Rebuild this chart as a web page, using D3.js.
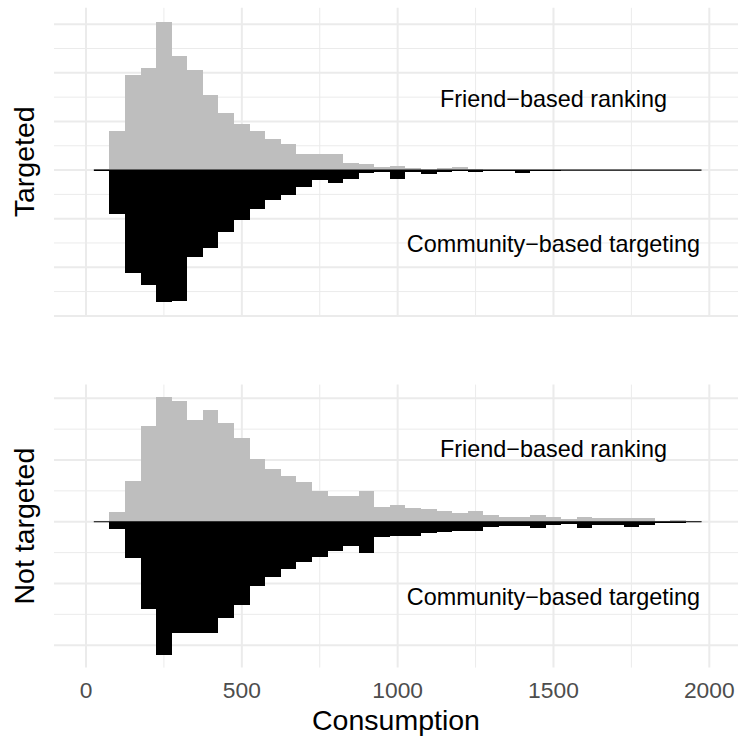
<!DOCTYPE html>
<html>
<head>
<meta charset="utf-8">
<script src="https://cdn.jsdelivr.net/npm/d3@7"></script>
<style>
  html, body { margin: 0; padding: 0; background: #fff; }
  svg { display: block; }
  text { font-family: "Liberation Sans", Arial, Helvetica, sans-serif; }
</style>
</head>
<body>
<svg id="chart" width="738" height="736"></svg>
<script>
// ---- data (density, in units of 0.001) ----
const binCenters = [50,100,150,200,250,300,350,400,450,500,550,600,650,700,750,800,850,900,950,1000,
  1050,1100,1150,1200,1250,1300,1350,1400,1450,1500,1550,1600,1650,1700,1750,1800,1850,1900,1950];
const binWidth = 50;

const friendTargeted = [0.03,0.80,1.955,2.10,3.05,2.35,2.06,1.54,1.17,0.95,0.80,0.64,0.535,0.33,0.33,0.33,0.144,0.123,0.055,0.082,
  0.034,0,0.041,0.062,0.02,0,0.007,0,0.007,0,0.01,0,0,0,0,0,0,0,0];
const communityTargeted = [0.01,0.90,2.11,2.37,2.71,2.69,1.79,1.60,1.27,1.03,0.81,0.62,0.51,0.34,0.21,0.26,0.185,0.07,0.034,0.18,
  0.034,0.082,0.034,0.02,0.048,0.027,0.02,0.055,0.02,0.027,0,0,0,0,0,0,0,0,0];
const friendNotTargeted = [0,0.162,0.666,1.558,2.013,1.948,1.656,1.818,1.607,1.364,1.023,0.860,0.747,0.649,0.503,0.422,0.422,0.503,0.2435,0.276,
  0.222,0.206,0.168,0.141,0.179,0.108,0.076,0.076,0.108,0.07,0.049,0.081,0.065,0.065,0.065,0.065,0.016,0.032,0.005];
const communityNotTargeted = [0,0.124,0.595,1.418,2.154,1.797,1.797,1.797,1.553,1.342,1.034,0.887,0.758,0.660,0.563,0.466,0.400,0.514,0.254,0.238,
  0.238,0.184,0.173,0.157,0.146,0.092,0.065,0.065,0.108,0.06,0.038,0.097,0.06,0.06,0.081,0.06,0.016,0.016,0.005];

const xTickValues = [0, 500, 1000, 1500, 2000];
const xTickLabels = ["0", "500", "1000", "1500", "2000"];
const panelLabels = ["Targeted", "Not targeted"];
const seriesLabels = ["Friend\u2212based ranking", "Community\u2212based targeting"];
const labelX = 1500;
const labelYTargeted = [1.46, -1.52];
const labelYNotTargeted = [1.19, -1.22];
const xTitle = "Consumption";

// ---- layout ----
const svg = d3.select("#chart");
const panelLeft = 54, panelRight = 738;
const x = d3.scaleLinear().domain([0, 2000]).range([86, 709.3]);
const gridColor = "#EBEBEB";
const grayFill = "#BEBEBE";

const panels = [
  { title: panelLabels[0], top: 7.8, bottom: 315.8, up: friendTargeted, down: communityTargeted, labelY: labelYTargeted },
  { title: panelLabels[1], top: 384.6, bottom: 667.6, up: friendNotTargeted, down: communityNotTargeted, labelY: labelYNotTargeted }
];

const xMinor = xTickValues.slice(1).map((v, i) => (v + xTickValues[i]) / 2);

panels.forEach(p => {
  const maxUp = d3.max(p.up), maxDown = d3.max(p.down);
  const span = maxUp + maxDown;
  const y = d3.scaleLinear()
    .domain([-maxDown - 0.05 * span, maxUp + 0.05 * span])
    .range([p.bottom, p.top]);
  const [d0, d1] = y.domain();
  const g = svg.append("g");

  // horizontal grid
  const minorY = d3.range(Math.ceil(d0 - 0.5), Math.floor(d1) + 1).map(v => v + 0.5).filter(v => v >= d0 && v <= d1);
  const majorY = d3.range(Math.ceil(d0 - 0.02), Math.floor(d1 + 0.02) + 1);
  g.selectAll(".hmin").data(minorY).join("line")
    .attr("x1", panelLeft).attr("x2", panelRight)
    .attr("y1", d => y(d)).attr("y2", d => y(d))
    .attr("stroke", gridColor).attr("stroke-width", 1);
  // vertical grid
  g.selectAll(".vmin").data(xMinor).join("line")
    .attr("x1", d => x(d)).attr("x2", d => x(d))
    .attr("y1", p.top).attr("y2", p.bottom)
    .attr("stroke", gridColor).attr("stroke-width", 1);
  g.selectAll(".hmaj").data(majorY).join("line")
    .attr("x1", panelLeft).attr("x2", panelRight)
    .attr("y1", d => y(d)).attr("y2", d => y(d))
    .attr("stroke", gridColor).attr("stroke-width", 2);
  g.selectAll(".vmaj").data(xTickValues).join("line")
    .attr("x1", d => x(d)).attr("x2", d => x(d))
    .attr("y1", p.top).attr("y2", p.bottom)
    .attr("stroke", gridColor).attr("stroke-width", 2);

  // bars
  g.selectAll(".up").data(binCenters.map((c, i) => ({ c, v: p.up[i] }))).join("rect")
    .attr("x", d => x(d.c - binWidth / 2))
    .attr("width", d => x(d.c + binWidth / 2) - x(d.c - binWidth / 2))
    .attr("y", d => y(d.v))
    .attr("height", d => y(0) - y(d.v))
    .attr("fill", grayFill)
    .attr("shape-rendering", "crispEdges");
  g.selectAll(".down").data(binCenters.map((c, i) => ({ c, v: p.down[i] }))).join("rect")
    .attr("x", d => x(d.c - binWidth / 2))
    .attr("width", d => x(d.c + binWidth / 2) - x(d.c - binWidth / 2))
    .attr("y", y(0))
    .attr("height", d => y(-d.v) - y(0))
    .attr("fill", "#000")
    .attr("shape-rendering", "crispEdges");

  // baseline across all bins
  g.append("line")
    .attr("x1", x(binCenters[0] - binWidth / 2))
    .attr("x2", x(binCenters[binCenters.length - 1] + binWidth / 2))
    .attr("y1", y(0)).attr("y2", y(0))
    .attr("stroke", "#000").attr("stroke-width", 1.2);

  // annotations
  seriesLabels.forEach((t, i) => {
    g.append("text")
      .attr("x", x(labelX))
      .attr("y", y(p.labelY[i]))
      .attr("dy", "0.358em")
      .attr("text-anchor", "middle")
      .attr("font-size", 23.4)
      .attr("fill", "#000")
      .text(t);
  });

  // panel (y) title
  const cy = (p.top + p.bottom) / 2;
  svg.append("text")
    .attr("transform", `translate(34,${cy}) rotate(-90)`)
    .attr("text-anchor", "middle")
    .attr("font-size", 28.5)
    .attr("fill", "#000")
    .text(p.title);
});

// x tick labels
svg.selectAll(".xt").data(xTickValues).join("text")
  .attr("x", d => x(d))
  .attr("y", 697.8)
  .attr("text-anchor", "middle")
  .attr("font-size", 22.8)
  .attr("fill", "#4D4D4D")
  .text((d, i) => xTickLabels[i]);

svg.append("text")
  .attr("x", (panelLeft + panelRight) / 2)
  .attr("y", 729.5)
  .attr("text-anchor", "middle")
  .attr("font-size", 28.5)
  .attr("fill", "#000")
  .text(xTitle);
</script>
</body>
</html>
